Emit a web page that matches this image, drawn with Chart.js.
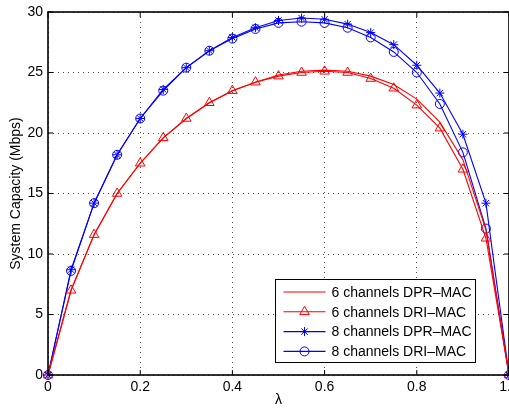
<!DOCTYPE html>
<html>
<head>
<meta charset="utf-8">
<script src="https://cdn.jsdelivr.net/npm/chart.js@4.4.1/dist/chart.umd.min.js"></script>
<style>
  html, body { margin: 0; padding: 0; background: #fff; }
  #wrap { width: 509px; height: 410px; }
</style>
</head>
<body>
<div id="wrap"><canvas id="chart" width="509" height="410"></canvas></div>
<script>
// data
const lambda = [0, 0.05, 0.1, 0.15, 0.2, 0.25, 0.3, 0.35, 0.4, 0.45, 0.5,
                0.55, 0.6, 0.65, 0.7, 0.75, 0.8, 0.85, 0.9, 0.95, 1];
const dpr6 = [0, 7.0, 11.6, 15.0, 17.5, 19.6, 21.2, 22.5, 23.5, 24.2, 24.8,
              25.1, 25.2, 25.1, 24.7, 24.0, 22.8, 20.9, 17.8, 12.0, 0];
const dri6 = [0, 7.0, 11.6, 15.0, 17.5, 19.6, 21.2, 22.5, 23.5, 24.2, 24.7,
              25.0, 25.1, 25.0, 24.5, 23.7, 22.3, 20.4, 17.0, 11.3, 0];
const dpr8 = [0, 8.7, 14.2, 18.2, 21.2, 23.6, 25.4, 26.8, 27.9, 28.7, 29.3,
              29.5, 29.4, 29.0, 28.3, 27.3, 25.6, 23.3, 19.9, 14.2, 0];
const dri8 = [0, 8.6, 14.2, 18.2, 21.2, 23.5, 25.4, 26.8, 27.8, 28.6, 29.1,
              29.2, 29.1, 28.7, 27.9, 26.7, 25.0, 22.4, 18.4, 12.1, 0];
const seriesNames = ['6 channels DPR\u2013MAC', '6 channels DRI\u2013MAC',
                     '8 channels DPR\u2013MAC', '8 channels DRI\u2013MAC'];

const FONT = '"Liberation Sans", Arial, Helvetica, sans-serif';
const RED = '#ff0000';
const BLUE = '#0000ff';

function toPoints(ys) {
    return lambda.map((x, i) => ({ x: x, y: ys[i] }));
}

function makeSet(label, ys, color, style, radius) {
    return {
        label: label,
        data: toPoints(ys),
        borderColor: color,
        backgroundColor: 'transparent',
        borderWidth: 1.1,
        pointStyle: style || 'circle',
        pointRadius: radius,
        pointBorderColor: color,
        pointBackgroundColor: 'transparent',
        pointBorderWidth: 1,
        tension: 0,
        clip: false
    };
}

// box round the plot, inner tick marks and the legend
const matlabLook = {
    id: 'matlabLook',
    afterDraw(chart) {
        const ctx = chart.ctx;
        const a = chart.chartArea;
        const xs = chart.scales.x, ys = chart.scales.y;
        ctx.save();
        ctx.strokeStyle = '#000';
        ctx.lineWidth = 1;
        ctx.beginPath();
        xs.ticks.forEach(t => {
            const px = xs.getPixelForValue(t.value);
            ctx.moveTo(px, a.bottom); ctx.lineTo(px, a.bottom - 5);
            ctx.moveTo(px, a.top); ctx.lineTo(px, a.top + 5);
        });
        ys.ticks.forEach(t => {
            const py = ys.getPixelForValue(t.value);
            ctx.moveTo(a.left, py); ctx.lineTo(a.left + 5, py);
            ctx.moveTo(a.right, py); ctx.lineTo(a.right - 5, py);
        });
        ctx.stroke();
        ctx.lineWidth = 1.6;
        ctx.strokeRect(a.left, a.top, a.right - a.left, a.bottom - a.top);

        // legend
        const bx = 275.5, by = 279.5, bw = 200, bh = 83;
        ctx.fillStyle = '#fff';
        ctx.fillRect(bx, by, bw, bh);
        ctx.lineWidth = 1;
        ctx.strokeRect(bx, by, bw, bh);
        ctx.font = '14px ' + FONT;
        ctx.textBaseline = 'middle';
        chart.data.datasets.forEach((ds, i) => {
            const cy = by + 12.5 + i * 19.8;
            ctx.strokeStyle = ds.borderColor;
            ctx.lineWidth = ds.borderWidth;
            ctx.beginPath();
            ctx.moveTo(bx + 8, cy); ctx.lineTo(bx + 50, cy);
            ctx.stroke();
            if (ds.pointRadius > 0) {
                ctx.fillStyle = 'rgba(0,0,0,0)';
                ctx.lineWidth = ds.pointBorderWidth;
                Chart.helpers.drawPoint(ctx, {
                    pointStyle: ds.pointStyle,
                    radius: ds.pointRadius,
                    rotation: 0,
                    borderWidth: ds.pointBorderWidth
                }, bx + 29, cy);
            }
            ctx.fillStyle = '#000';
            ctx.fillText(ds.label, bx + 56, cy + 1);
        });
        ctx.restore();
    }
};

new Chart(document.getElementById('chart'), {
    type: 'line',
    data: {
        datasets: [
            makeSet(seriesNames[0], dpr6, RED, 'circle', 0),
            makeSet(seriesNames[1], dri6, RED, 'triangle', 5.5),
            makeSet(seriesNames[2], dpr8, BLUE, 'star', 4.5),
            makeSet(seriesNames[3], dri8, BLUE, 'circle', 4.5)
        ]
    },
    options: {
        responsive: false,
        animation: false,
        layout: { autoPadding: false, padding: { top: 12, right: 0, left: 0, bottom: 0 } },
        plugins: {
            legend: { display: false },
            tooltip: { enabled: false }
        },
        scales: {
            x: {
                type: 'linear',
                min: 0,
                max: 1,
                ticks: {
                    stepSize: 0.2,
                    padding: 4,
                    color: '#000',
                    font: { family: FONT, size: 14 }
                },
                grid: {
                    color: 'rgba(0,0,0,0.7)',
                    drawTicks: false
                },
                border: { display: false, dash: [1, 4] },
                title: {
                    display: true,
                    text: '\u03bb',
                    color: '#000',
                    font: { family: FONT, size: 14 },
                    padding: { top: 0, bottom: 1 }
                },
                afterFit(scale) {
                    scale.height = 35;
                    scale.paddingLeft = 0;
                    scale.paddingRight = 0;
                }
            },
            y: {
                min: 0,
                max: 30,
                ticks: {
                    stepSize: 5,
                    padding: 5,
                    color: '#000',
                    font: { family: FONT, size: 14 }
                },
                grid: {
                    color: 'rgba(0,0,0,0.7)',
                    drawTicks: false
                },
                border: { display: false, dash: [1, 4] },
                title: {
                    display: true,
                    text: 'System Capacity (Mbps)',
                    color: '#000',
                    font: { family: FONT, size: 14 },
                    padding: { top: 8, bottom: 0 }
                },
                afterFit(scale) {
                    scale.width = 48;
                    scale.paddingTop = 0;
                    scale.paddingBottom = 0;
                }
            }
        }
    },
    plugins: [matlabLook]
});
</script>
</body>
</html>
